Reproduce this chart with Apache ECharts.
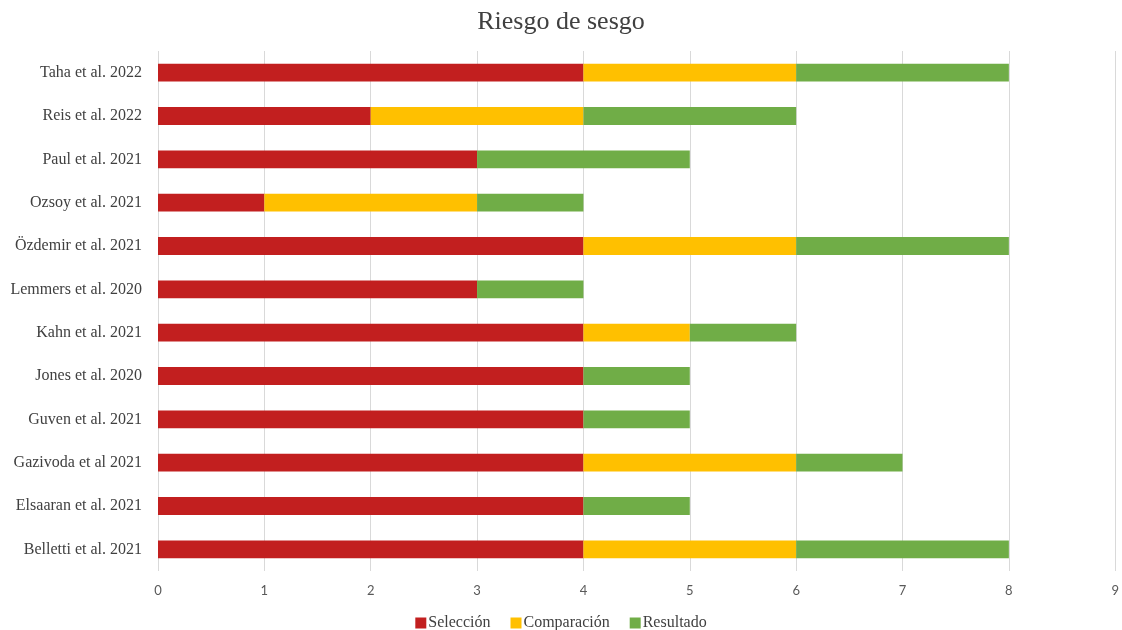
<!DOCTYPE html>
<html>
<head>
<meta charset="utf-8">
<script src="https://cdn.jsdelivr.net/npm/echarts@6/dist/echarts.min.js"></script>
<style>
  html, body { margin: 0; padding: 0; background: #ffffff; }
  #chart { width: 1122px; height: 630px; }
</style>
</head>
<body>
<div id="chart"></div>
<script>
// Studies, listed bottom to top on the category axis
const studies = [
  'Belletti et al. 2021',
  'Elsaaran et al. 2021',
  'Gazivoda et al 2021',
  'Guven et al. 2021',
  'Jones et al. 2020',
  'Kahn et al. 2021',
  'Lemmers et al. 2020',
  'Özdemir et al. 2021',
  'Ozsoy et al. 2021',
  'Paul et al. 2021',
  'Reis et al. 2022',
  'Taha et al. 2022'
];

// Scores per domain
const seleccion   = [4, 4, 4, 4, 4, 4, 3, 4, 1, 3, 2, 4];
const comparacion = [2, 0, 2, 0, 0, 1, 0, 2, 2, 0, 2, 2];
const resultado   = [2, 1, 1, 1, 1, 1, 1, 2, 1, 2, 2, 2];

const serifFont = '"Liberation Serif", "DejaVu Serif", serif';
const sansFont = 'Lato, "Open Sans", sans-serif';

const chart = echarts.init(document.getElementById('chart'), null, { renderer: 'canvas' });

function barSeries(name, data, color) {
  return {
    name: name,
    type: 'bar',
    stack: 'total',
    data: data,
    barWidth: '41%',
    itemStyle: { color: color },
    emphasis: { disabled: true }
  };
}

chart.setOption({
  animation: false,
  title: {
    text: 'Riesgo de sesgo',
    left: 'center',
    top: 4,
    textStyle: {
      fontFamily: serifFont,
      fontSize: 26,
      fontWeight: 'normal',
      color: '#404040'
    }
  },
  legend: {
    top: 610,
    left: 'center',
    itemWidth: 11,
    itemHeight: 11,
    itemGap: 20,
    icon: 'rect',
    textStyle: {
      fontFamily: serifFont,
      fontSize: 16,
      color: '#404040',
      padding: [0, 0, 0, -3]
    },
    data: ['Selección', 'Comparación', 'Resultado']
  },
  grid: {
    left: 158,
    right: 1,
    top: 51,
    bottom: 59,
    containLabel: false
  },
  xAxis: {
    type: 'value',
    min: 0,
    max: 9,
    interval: 1,
    axisLine: { show: false },
    axisTick: { show: false },
    splitLine: { show: true, lineStyle: { color: '#d9d9d9', width: 1 } },
    axisLabel: {
      fontFamily: sansFont,
      fontSize: 13,
      color: '#595959',
      margin: 13
    }
  },
  yAxis: {
    type: 'category',
    data: studies,
    axisLine: { show: false },
    axisTick: { show: false },
    axisLabel: {
      fontFamily: serifFont,
      fontSize: 16,
      color: '#404040',
      margin: 16
    }
  },
  series: [
    barSeries('Selección', seleccion, '#C21F1F'),
    barSeries('Comparación', comparacion, '#FFC000'),
    barSeries('Resultado', resultado, '#70AD47')
  ]
});
</script>
</body>
</html>
